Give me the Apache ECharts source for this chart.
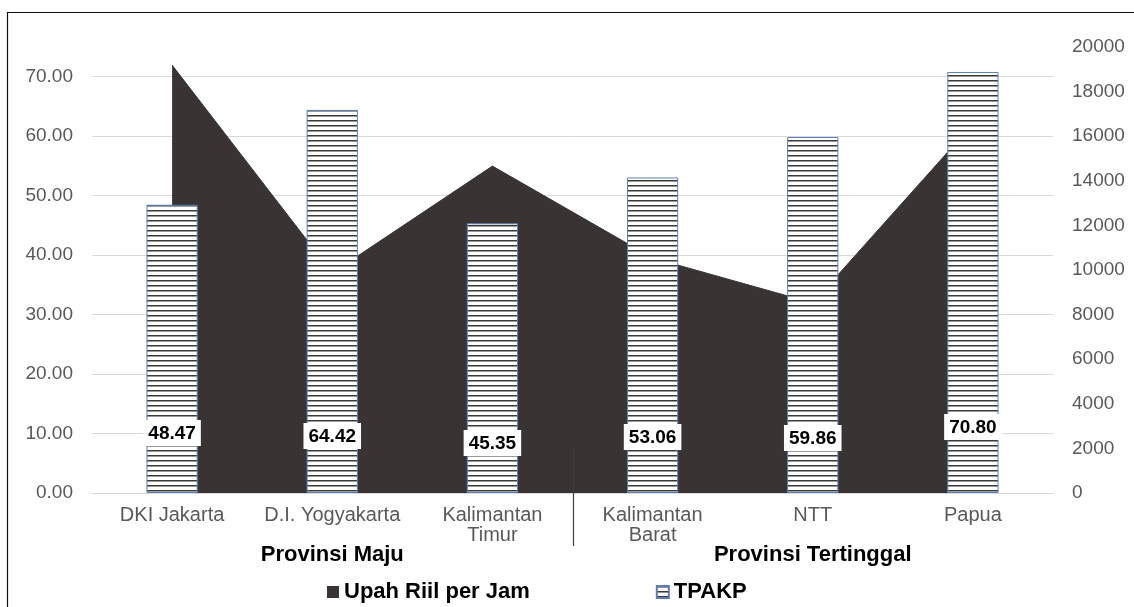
<!DOCTYPE html>
<html>
<head>
<meta charset="utf-8">
<script src="https://cdn.jsdelivr.net/npm/echarts@6/dist/echarts.min.js"></script>
<style>html,body{margin:0;padding:0;background:#fff}#c{width:1134px;height:607px}</style>
</head>
<body>
<div id="c"></div>
<script>
// ---- data ----
var categories = ['DKI Jakarta', 'D.I. Yogyakarta', 'Kalimantan\nTimur', 'Kalimantan\nBarat', 'NTT', 'Papua'];
var groups = ['Provinsi Maju', 'Provinsi Tertinggal'];
var upahRiil = [19190, 9870, 14660, 10540, 8520, 16550];
var tpakp = [48.47, 64.42, 45.35, 53.06, 59.86, 70.80];
var leftTicks = { min: 0, max: 75, interval: 10 };
var rightTicks = { min: 0, max: 20000, interval: 2000 };

// ---- style helpers ----
var labelLift = [47, 44, 37, 43, 42, 53];
function makePattern() {
  var c = document.createElement('canvas');
  c.width = 4; c.height = 5;
  var g = c.getContext('2d');
  g.fillStyle = '#ffffff'; g.fillRect(0, 0, 4, 5);
  g.fillStyle = '#3a3a3a'; g.fillRect(0, 0, 4, 1);
  g.fillStyle = '#9a9a9a'; g.fillRect(0, 1, 4, 1);
  return c;
}
var pattern = { image: makePattern(), repeat: 'repeat' };
var FONT = '"Liberation Sans", Arial, sans-serif';

var chart = echarts.init(document.getElementById('c'), null, { renderer: 'canvas' });

var barData = tpakp.map(function (v, i) {
  return { value: v, label: { distance: labelLift[i] } };
});

var option = {
  animation: false,
  grid: { left: 92, right: 81, top: 47, bottom: 114 },
  legend: {
    left: 322, top: 576,
    itemWidth: 12, itemHeight: 12, itemGap: 126,
    textStyle: { fontFamily: FONT, fontWeight: 'bold', fontSize: 22, color: '#000' },
    data: [{ name: 'Upah Riil per Jam', icon: 'rect' }, { name: 'TPAKP', icon: 'rect' }]
  },
  xAxis: [{
    type: 'category', data: categories, position: 'bottom',
    axisLine: { show: true, lineStyle: { color: '#d9d9d9' } },
    axisTick: { show: false },
    axisLabel: { fontFamily: FONT, fontSize: 20, color: '#595959', margin: 12, lineHeight: 20, interval: 0 }
  }, {
    type: 'category', data: groups, position: 'bottom',
    axisLine: { show: false }, axisTick: { show: false },
    axisLabel: { fontFamily: FONT, fontSize: 22, fontWeight: 'bold', color: '#000', margin: 51, interval: 0 }
  }],
  yAxis: [{
    type: 'value', min: leftTicks.min, max: leftTicks.max, interval: leftTicks.interval,
    axisLine: { show: false }, axisTick: { show: false },
    axisLabel: { fontFamily: FONT, fontSize: 19, color: '#595959', margin: 19, showMaxLabel: false,
      formatter: function (v) { return v.toFixed(2); } },
    splitLine: { show: true, showMaxLine: false, lineStyle: { color: '#d9d9d9', width: 1 } }
  }, {
    type: 'value', min: rightTicks.min, max: rightTicks.max, interval: rightTicks.interval,
    position: 'right',
    axisLine: { show: false }, axisTick: { show: false },
    axisLabel: { fontFamily: FONT, fontSize: 19, color: '#595959', margin: 19,
      formatter: function (v) { return String(v); } },
    splitLine: { show: false }
  }],
  series: [{
    name: 'Upah Riil per Jam', type: 'line', yAxisIndex: 1, xAxisIndex: 0, z: 1,
    data: upahRiil, symbol: 'none',
    lineStyle: { color: '#393433', width: 1 },
    itemStyle: { color: '#393433' },
    areaStyle: { color: '#393433', opacity: 1 }
  }, {
    name: 'TPAKP', type: 'bar', yAxisIndex: 0, xAxisIndex: 0, z: 5,
    data: barData, barWidth: '32%',
    itemStyle: { color: pattern, borderColor: '#5b7fb5', borderWidth: 1 },
    label: {
      show: true, position: 'insideBottom',
      fontFamily: FONT, fontSize: 19, fontWeight: 'bold', color: '#000',
      backgroundColor: '#fff', padding: [4, 5, 3, 5],
      formatter: function (p) { return p.value.toFixed(2); }
    }
  }]
};
chart.setOption(option);

// separator between groups and outer border
var xa = chart.convertToPixel({ xAxisIndex: 0 }, categories[2]);
var xb = chart.convertToPixel({ xAxisIndex: 0 }, categories[3]);
var y0 = chart.convertToPixel({ yAxisIndex: 0 }, 0);
var sepX = Math.round((xa + xb) / 2) + 0.5;
chart.setOption({
  graphic: [{
    type: 'line', shape: { x1: sepX, y1: y0 - 43, x2: sepX, y2: y0 + 53 },
    style: { stroke: '#404040', lineWidth: 1.2 }, z: 100
  }, {
    type: 'rect', shape: { x: 7.5, y: 12.5, width: 1200, height: 700 },
    style: { stroke: '#111', fill: 'none', lineWidth: 1.2 }, z: 100
  }]
});
</script>
</body>
</html>
